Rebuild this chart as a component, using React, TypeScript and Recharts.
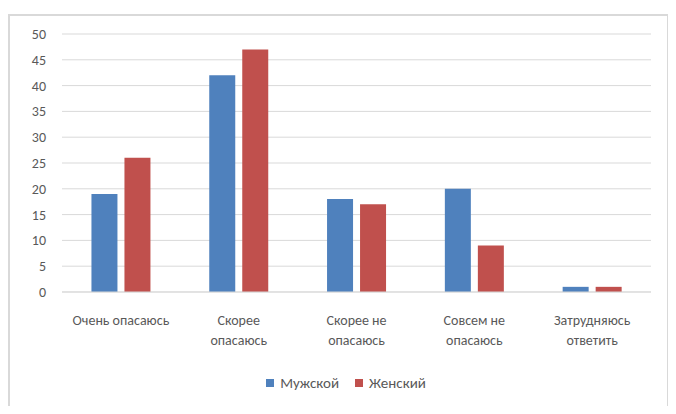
import { BarChart, Bar, XAxis, YAxis, CartesianGrid } from "recharts";

const categories = [
  "Очень опасаюсь",
  "Скорее опасаюсь",
  "Скорее не опасаюсь",
  "Совсем не опасаюсь",
  "Затрудняюсь ответить",
];
// how Excel wrapped the category labels
const tickLines = [
  ["Очень опасаюсь"],
  ["Скорее", "опасаюсь"],
  ["Скорее не", "опасаюсь"],
  ["Совсем не", "опасаюсь"],
  ["Затрудняюсь", "ответить"],
];
const male = [19, 42, 18, 20, 1];
const female = [26, 47, 17, 9, 1];
const yTicks = [0, 5, 10, 15, 20, 25, 30, 35, 40, 45, 50];

const series = [
  { key: "male", name: "Мужской", color: "#4f81bd" },
  { key: "female", name: "Женский", color: "#c0504d" },
];

const data = categories.map((c, i) => ({ name: c, male: male[i], female: female[i] }));

const FONT = "Carlito, 'Liberation Sans Narrow', 'DejaVu Sans Condensed', sans-serif";

const CatTick = (props: any) => {
  const { x, y, index } = props;
  const lines = tickLines[index] || [];
  return (
    <g transform={`translate(${x},${y})`}>
      {lines.map((l, i) => (
        <text key={i} x={0} y={i * 20} dy={17} textAnchor="middle" fill="#595959" fontSize={14} fontFamily={FONT}>
          {l}
        </text>
      ))}
    </g>
  );
};

const Legend = () => (
  <div
    style={{
      position: "absolute",
      top: 374,
      left: 0,
      width: 676,
      display: "flex",
      justifyContent: "center",
      gap: 16,
      paddingLeft: 8,
      fontFamily: FONT,
      fontSize: 15,
      color: "#595959",
    }}
  >
    {series.map((s) => (
      <div key={s.key} style={{ display: "flex", alignItems: "center", gap: 6 }}>
        <span style={{ width: 8, height: 8, background: s.color, display: "inline-block" }} />
        <span>{s.name}</span>
      </div>
    ))}
  </div>
);

export default function App() {
  return (
    <div style={{ position: "relative", width: 676, height: 414, margin: -8, background: "#fff" }}>
      <div
        style={{
          position: "absolute",
          left: 8,
          top: 14,
          width: 657,
          height: 393,
          border: "2px solid #d9d9d9",
        }}
      />
      <BarChart
        width={676}
        height={414}
        data={data}
        margin={{ top: 34, right: 25, bottom: 62, left: 8 }}
        barCategoryGap="25%"
        barGap={7}
        style={{ position: "absolute", left: 0, top: 0 }}
      >
        <CartesianGrid vertical={false} stroke="#d9d9d9" />
        <XAxis
          dataKey="name"
          tick={<CatTick />}
          tickLine={false}
          axisLine={{ stroke: "#d9d9d9" }}
          interval={0}
          height={60}
          tickMargin={10}
        />
        <YAxis
          width={54}
          domain={[0, 50]}
          ticks={yTicks}
          interval={0}
          axisLine={false}
          tickLine={false}
          tickSize={0}
          tickMargin={16}
          tick={{ fill: "#595959", fontSize: 14, fontFamily: FONT }}
        />
        {series.map((s) => (
          <Bar key={s.key} dataKey={s.key} name={s.name} fill={s.color} isAnimationActive={false} />
        ))}
      </BarChart>
      <Legend />
    </div>
  );
}
